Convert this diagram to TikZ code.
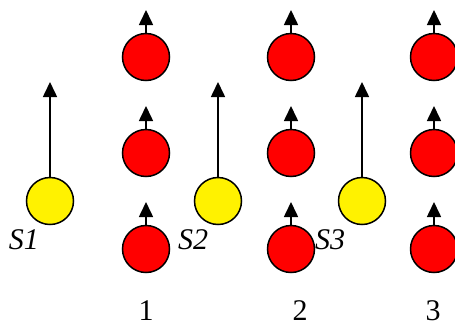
\documentclass[tikz,border=0pt]{standalone}
\usepackage{fontspec}
\setmainfont{Liberation Serif}
\usepackage{tikz}
\usetikzlibrary{arrows.meta}

\begin{document}
\begin{tikzpicture}[x=1pt,y=-1pt,
  ball/.style={circle,draw,line width=1.5pt,minimum size=47pt,inner sep=0pt,fill=#1},
  spin/.style={-{Triangle[length=15pt,width=14pt]},line width=1.6pt},
  lbl/.style={font=\fontsize{30}{36}\selectfont,inner sep=0pt}]
  \useasboundingbox (0,0) rectangle (455,322);
  % lattice of red spins
  \foreach \col/\cx in {1/146,2/291,3/434}
    \foreach \row/\cy in {1/57,2/153,3/249} {
      \node[ball=red] (r\col\row) at (\cx,\cy) {};
      \coordinate (rt\col\row) at (\cx,\cy-47);
      \draw[spin] (r\col\row) -- (rt\col\row);
    }
  % yellow spins S1..S3
  \foreach \s/\sx/\lx in {1/50/24,2/218/193,3/362/330} {
    \node[ball=yellow] (s\s) at (\sx,201) {};
    \coordinate (st\s) at (\sx,82);
    \draw[spin] (s\s) -- (st\s);
    \node[lbl,anchor=base] (sl\s) at (\lx,249) {\textit{S\s}};
  }
  % column numbers
  \foreach \n/\nx in {1/146,2/300,3/433}
    \node[lbl,anchor=base] (n\n) at (\nx,320) {\n};
\end{tikzpicture}
\end{document}
